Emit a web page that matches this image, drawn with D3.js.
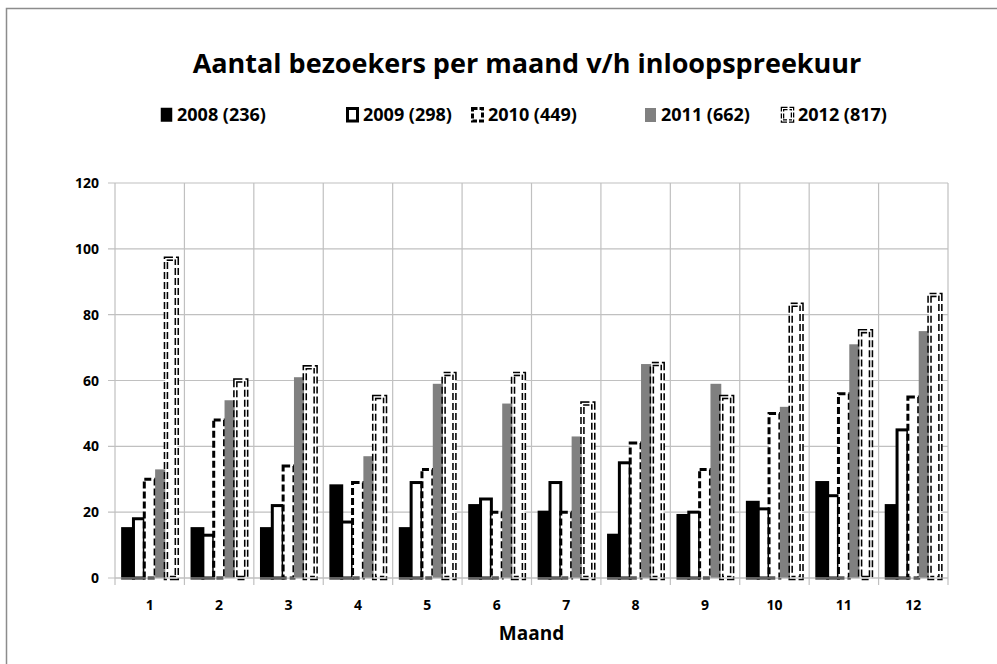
<!DOCTYPE html>
<html>
<head>
<meta charset="utf-8">
<script src="https://cdn.jsdelivr.net/npm/d3@7"></script>
<style>
  html, body { margin: 0; padding: 0; background: #fff; }
  svg { display: block; }
  text { font-family: "Open Sans", Lato, sans-serif; font-weight: bold; fill: #000; }
</style>
</head>
<body>
<svg id="chart" width="997" height="664"></svg>
<script>
const months = ["1","2","3","4","5","6","7","8","9","10","11","12"];
const seriesNames = ["2008 (236)","2009 (298)","2010 (449)","2011 (662)","2012 (817)"];
const v2008 = [15,15,15,28,15,22,20,13,19,23,29,22];
const v2009 = [18,13,22,17,29,24,29,35,20,21,25,45];
const v2010 = [30,48,34,29,33,20,20,41,33,50,56,55];
const v2011 = [33,54,61,37,59,53,43,65,59,52,71,75];
const v2012 = [97,60,64,55,62,62,53,65,55,83,75,86];
const yTicks = [0,20,40,60,80,100,120];
const titleText = "Aantal bezoekers per maand v/h inloopspreekuur";
const xTitle = "Maand";

const seriesValues = [v2008, v2009, v2010, v2011, v2012];

const svg = d3.select("#chart");
const W = 997, H = 664;
const m = {left: 115, right: 49, top: 183, bottom: 86};
const pw = W - m.left - m.right, ph = H - m.top - m.bottom;

// outer border
svg.append("rect").attr("x", 6.5).attr("y", 8.5).attr("width", 1100).attr("height", 800)
  .attr("fill", "none").attr("stroke", "#8c8c8c").attr("stroke-width", 1.5);

const x = d3.scaleBand().domain(months).range([m.left, m.left + pw]).padding(0);
const gap = x.bandwidth() * 0.11;
const x1 = d3.scaleBand().domain(seriesNames).range([gap, x.bandwidth() - gap]).padding(0);
const y = d3.scaleLinear().domain([0, 120]).range([m.top + ph, m.top]);

const g = svg.append("g");

// horizontal gridlines
g.selectAll(".hg").data(yTicks).join("line")
  .attr("x1", m.left - 7).attr("x2", m.left + pw)
  .attr("y1", d => y(d)).attr("y2", d => y(d))
  .attr("stroke", "#c0c0c0").attr("stroke-width", 1.2);
// vertical gridlines
const vb = months.map(d => x(d)).concat([m.left + pw]);
g.selectAll(".vg").data(vb).join("line")
  .attr("x1", d => d).attr("x2", d => d)
  .attr("y1", m.top).attr("y2", m.top + ph + 7)
  .attr("stroke", "#c0c0c0").attr("stroke-width", 1.2);

// y tick labels
g.selectAll(".yl").data(yTicks).join("text")
  .attr("x", m.left - 16).attr("y", d => y(d)).attr("dy", "0.36em")
  .attr("text-anchor", "end").attr("font-size", 14).text(d => d);

// x tick labels
g.selectAll(".xl").data(months).join("text")
  .attr("x", d => x(d) + x.bandwidth() / 2).attr("y", m.top + ph + 32)
  .attr("text-anchor", "middle").attr("font-size", 14).text(d => d);

// bars
const styles = [
  {fill: "#000", stroke: "#000", sw: 3, dash: null},
  {fill: "#fff", stroke: "#000", sw: 3, dash: null},
  {fill: "#fff", stroke: "#000", sw: 3, dash: "7,3"},
  {fill: "#808080", stroke: "none", sw: 0, dash: null},
  {fill: "#fff", stroke: "#000", sw: 4.5, dash: "7,3", dbl: true}
];

seriesNames.forEach((s, si) => {
  const st = styles[si];
  const data = months.map((mo, i) => ({mo, v: seriesValues[si][i]}));
  const sel = g.append("g").selectAll("rect").data(data).join("rect")
    .attr("x", d => x(d.mo) + x1(s))
    .attr("y", d => y(d.v))
    .attr("width", x1.bandwidth())
    .attr("height", d => y(0) - y(d.v))
    .attr("fill", st.fill)
    .attr("stroke", st.stroke)
    .attr("stroke-width", st.sw);
  if (st.dash) sel.attr("stroke-dasharray", st.dash);
  if (st.dbl) {
    g.append("g").selectAll("rect").data(data).join("rect")
      .attr("x", d => x(d.mo) + x1(s))
      .attr("y", d => y(d.v))
      .attr("width", x1.bandwidth())
      .attr("height", d => y(0) - y(d.v))
      .attr("fill", "none").attr("stroke", "#fff").attr("stroke-width", 1.4);
  }
});

// baseline
g.append("line").attr("x1", m.left).attr("x2", m.left + pw)
  .attr("y1", y(0)).attr("y2", y(0)).attr("stroke", "#c0c0c0").attr("stroke-width", 1.2);

// title
svg.append("text").attr("x", 527).attr("y", 73).attr("text-anchor", "middle")
  .attr("font-size", 27).text(titleText);

// x axis title
svg.append("text").attr("x", m.left + pw / 2).attr("y", 640).attr("text-anchor", "middle")
  .attr("font-size", 19).text(xTitle);

// legend
const legX = [160, 346, 471, 644, 781];
const lg = svg.append("g");
seriesNames.forEach((s, si) => {
  const st = styles[si];
  const gx = legX[si], gy = 115;
  if (si === 3) {
    lg.append("rect").attr("x", gx + 1).attr("y", gy - 7).attr("width", 11).attr("height", 14).attr("fill", "#808080");
  } else {
    const r = lg.append("rect").attr("x", gx + 1.5).attr("y", gy - 6.5).attr("width", 10).attr("height", 12.5)
      .attr("fill", st.fill).attr("stroke", st.stroke).attr("stroke-width", si === 0 ? 1.5 : 3);
    if (st.dash) r.attr("stroke-dasharray", "5,2").attr("stroke-width", si === 4 ? 3.5 : 3);
    if (st.dbl) lg.append("rect").attr("x", gx + 1.5).attr("y", gy - 6.5).attr("width", 10).attr("height", 12.5)
      .attr("fill", "none").attr("stroke", "#fff").attr("stroke-width", 1);
  }
  lg.append("text").attr("x", gx + 17).attr("y", gy).attr("dy", "0.36em")
    .attr("font-size", 18).text(s);
});
</script>
</body>
</html>
